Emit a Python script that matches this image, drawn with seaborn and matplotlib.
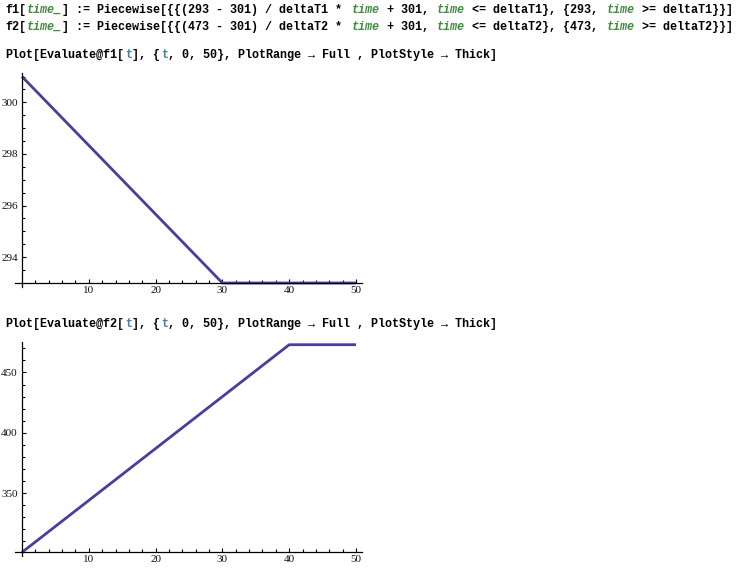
import numpy as np
import pandas as pd
import matplotlib
matplotlib.use("Agg")
import matplotlib.pyplot as plt
from matplotlib.ticker import FixedLocator
import seaborn as sns

# piecewise functions (deltaT1 = 30, deltaT2 = 40)
t1 = [0, 30, 50]
f1 = [301, 293, 293]
t2 = [0, 40, 50]
f2 = [301, 473, 473]

x_ticks = [10, 20, 30, 40, 50]
y1_ticks = [294, 296, 298, 300]
y2_ticks = [350, 400, 450]

sns.set_style("white")
plt.rcParams['font.family'] = ['Liberation Serif', 'DejaVu Serif']

BLACK = "#000000"
GREEN = "#3f8a3f"
BLUE = "#4a7fa3"
LINE = "#4a3d9c"

W, H = 742, 574
fig = plt.figure(figsize=(W / 100, H / 100), dpi=100)

FS = 8.5
CHAR = 0.6 * FS * 100 / 72  # px per char, monospace


def code_line(y_px, parts, x_px=5):
    n = 0
    for s, col, ital in parts:
        fig.text((x_px + n * CHAR) / W, 1 - y_px / H, s, color=col,
                 family=['Liberation Mono', 'DejaVu Sans Mono'],
                 weight='bold', style='italic' if ital else 'normal',
                 fontsize=FS, va='center', ha='left')
        n += len(s)


def piecewise_line(y_px, name, dt, val):
    code_line(y_px, [
        (f"{name}[", BLACK, False), ("time_", GREEN, True),
        (f"] := Piecewise[{{{{({val} - 301) / {dt} * ", BLACK, False),
        ("time", GREEN, True), (" + 301, ", BLACK, False),
        ("time", GREEN, True), (f" <= {dt}}}, {{{val}, ", BLACK, False),
        ("time", GREEN, True), (f" >= {dt}}}}}]", BLACK, False),
    ])


def plot_line(y_px, name):
    code_line(y_px, [
        (f"Plot[Evaluate@{name}[", BLACK, False), ("t", BLUE, False),
        ("], {", BLACK, False), ("t", BLUE, False),
        (", 0, 50}, PlotRange \u2192 Full , PlotStyle \u2192 Thick]", BLACK, False),
    ])


piecewise_line(10, "f1", "deltaT1", 293)
piecewise_line(27, "f2", "deltaT2", 473)
plot_line(55, "f1")
plot_line(324, "f2")


def make_axes(t, f, x0_px, xaxis_px, top_px, ylo, yhi, yticks, yminor):
    # x: data 0 at x0_px, 6.68 px per unit
    ppx = (356 - 22) / 50
    xl, xr = -1.0, 50.9
    left = x0_px + xl * ppx
    width = (xr - xl) * ppx
    ppy = (xaxis_px - top_px) / (yhi - ylo)
    ext = 4 / ppy
    bottom_px = xaxis_px + 4
    ax = fig.add_axes([left / W, 1 - bottom_px / H, width / W, (bottom_px - top_px) / H])
    df = pd.DataFrame({"t": t, "f": f})
    sns.lineplot(data=df, x="t", y="f", ax=ax, color=LINE, linewidth=2.0,
                 solid_capstyle='butt')
    ax.set_xlim(xl, xr)
    ax.set_ylim(ylo - ext, yhi)
    for s in ["top", "right"]:
        ax.spines[s].set_visible(False)
    ax.spines["left"].set_position(("data", 0))
    ax.spines["bottom"].set_position(("data", ylo))
    for s in ["left", "bottom"]:
        ax.spines[s].set_color("black")
        ax.spines[s].set_linewidth(0.9)
    ax.set_xticks(x_ticks)
    ax.xaxis.set_minor_locator(FixedLocator([v for v in np.arange(2, 51, 2) if v % 10]))
    ax.set_yticks(yticks)
    ax.yaxis.set_minor_locator(FixedLocator(yminor))
    ax.tick_params(which='both', direction='in', color='black', width=0.8)
    ax.tick_params(which='major', length=3.2, labelsize=8, labelcolor='#111111')
    ax.tick_params(which='minor', length=2)
    ax.tick_params(axis='x', which='both', bottom=True, pad=2)
    ax.tick_params(axis='y', which='both', left=True, pad=3)
    ax.set_xlabel("")
    ax.set_ylabel("")
    ax.patch.set_alpha(0)
    return ax


y1_minor = [v for v in np.arange(293.5, 301.01, 0.5) if v not in y1_ticks]
y2_minor = [v for v in np.arange(310, 471, 10) if v not in y2_ticks]

make_axes(t1, f1, 22, 283, 72.7, 293, 301.15, y1_ticks, y1_minor)
make_axes(t2, f2, 22, 552.3, 341.7, 301, 475.5, y2_ticks, y2_minor)

fig.savefig("out.png", dpi=100)
